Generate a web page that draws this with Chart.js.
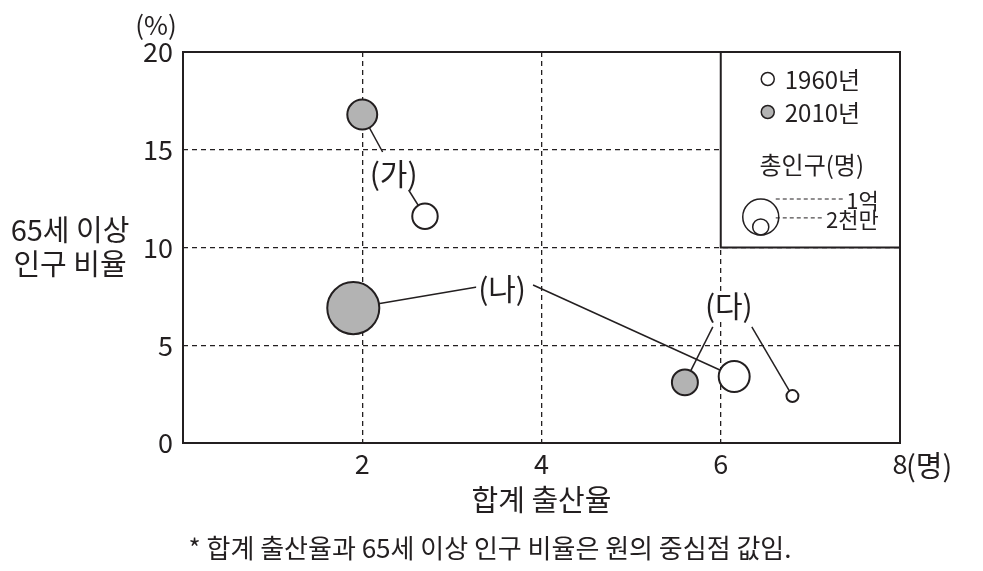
<!DOCTYPE html>
<html>
<head>
<meta charset="utf-8">
<style>
  html, body { margin: 0; padding: 0; background: #fff; }
</style>
<script src="https://cdn.jsdelivr.net/npm/chart.js@4.4.1/dist/chart.umd.min.js"></script>
</head>
<body>
<canvas id="chart" width="983" height="571"></canvas>
<script>
// data
const countries = ["(가)", "(나)", "(다)"];
const fertility1960 = [2.7, 6.15, 6.8];
const elderly1960 = [11.6, 3.4, 2.4];
const pop1960 = [50, 74, 11]; // 백만 명, estimated from circle size
const fertility2010 = [2.0, 1.9, 5.6];
const elderly2010 = [16.8, 6.9, 3.1];
const pop2010 = [69, 209, 52];
const legendPops = [100, 20]; // 1억, 2천만
const legendPopLabels = ["1억", "2천만"];
const xTickValues = [0, 2, 4, 6, 8];
const yTickValues = [0, 5, 10, 15, 20];

const INK = "#231f20";
const GRAY = "#b3b3b3";
const FONT = '"Noto Sans CJK KR", "Noto Sans", sans-serif';

// label anchors (data coords) and leader line start offsets in px [to 1960, to 2010]
const labelAt = [{ x: 2.35, y: 13.76 }, { x: 3.56, y: 7.88 }, { x: 6.09, y: 7.01 }];
const leaderFrom = [
  [[15, 16], [-11, -22]],
  [[31, -4], [-25, -2]],
  [[23, 21], [-16, 21]],
];

function radiusOf(pop) {
  return 1.8 * Math.sqrt(pop);
}

function toPoints(xs, ys, pops) {
  return xs.map((x, i) => ({ x: x, y: ys[i], r: radiusOf(pops[i]) }));
}

function font(size) {
  return size + "px " + FONT;
}

const annotate = {
  id: "annotate",
  beforeDatasetsDraw(chart) {
    const { ctx, chartArea: a, scales: { x, y } } = chart;
    const lx = x.getPixelForValue(6), ly = y.getPixelForValue(10);
    ctx.save();
    // white legend cell hides the grid
    ctx.fillStyle = "#fff";
    ctx.fillRect(lx, a.top, a.right - lx, ly - a.top);
    // leader lines from the labels to the circles
    ctx.strokeStyle = INK;
    ctx.lineWidth = 1.5;
    countries.forEach((c, i) => {
      const cx = x.getPixelForValue(labelAt[i].x);
      const cy = y.getPixelForValue(labelAt[i].y);
      [0, 1].forEach((k) => {
        const pt = chart.getDatasetMeta(k).data[i];
        const [dx, dy] = leaderFrom[i][k];
        ctx.beginPath();
        ctx.moveTo(cx + dx, cy + dy);
        ctx.lineTo(pt.x, pt.y);
        ctx.stroke();
      });
    });
    ctx.restore();
  },
  afterDatasetsDraw(chart) {
    const { ctx, chartArea: a, scales: { x, y } } = chart;
    const lx = x.getPixelForValue(6), ly = y.getPixelForValue(10);
    ctx.save();
    ctx.strokeStyle = INK;
    ctx.fillStyle = INK;
    ctx.lineWidth = 2;
    ctx.strokeRect(a.left, a.top, a.right - a.left, a.bottom - a.top);
    ctx.beginPath();
    ctx.moveTo(lx, a.top);
    ctx.lineTo(lx, ly);
    ctx.lineTo(a.right, ly);
    ctx.stroke();

    // country labels
    ctx.font = font(30);
    ctx.textAlign = "center";
    ctx.textBaseline = "middle";
    countries.forEach((c, i) => {
      const cx = x.getPixelForValue(labelAt[i].x);
      const cy = y.getPixelForValue(labelAt[i].y);
      const w = ctx.measureText(c).width;
      ctx.fillStyle = "#fff";
      ctx.fillRect(cx - w / 2 - 2, cy - 15, w + 4, 30);
      ctx.fillStyle = INK;
      ctx.fillText(c, cx, cy);
    });

    // legend
    const top = a.top;
    ctx.lineWidth = 1.5;
    ctx.textAlign = "left";
    ctx.font = font(24);
    [["1960년", "#fff", 27], ["2010년", GRAY, 60]].forEach(([t, fill, dy]) => {
      ctx.beginPath();
      ctx.arc(lx + 47, top + dy, 6.5, 0, Math.PI * 2);
      ctx.fillStyle = fill;
      ctx.fill();
      ctx.stroke();
      ctx.fillStyle = INK;
      ctx.fillText(t, lx + 64, top + dy + 1);
    });
    ctx.textAlign = "center";
    ctx.fillText("총인구(명)", lx + 91, top + 113);

    const base = top + 183;
    ctx.font = font(22);
    ctx.textAlign = "right";
    legendPops.forEach((p, k) => {
      const r = radiusOf(p);
      ctx.lineWidth = 1.5;
      ctx.setLineDash([]);
      ctx.beginPath();
      ctx.arc(lx + 40, base - r, r, 0, Math.PI * 2);
      ctx.stroke();
      const ty = k === 0 ? base - 2 * r : base - 2 * r - 1;
      const tw = ctx.measureText(legendPopLabels[k]).width;
      ctx.lineWidth = 1;
      ctx.setLineDash([4, 3]);
      ctx.beginPath();
      ctx.moveTo(lx + 55, ty);
      ctx.lineTo(lx + 157 - tw - 2, ty);
      ctx.stroke();
      ctx.fillText(legendPopLabels[k], lx + 158, ty + 2);
    });
    ctx.setLineDash([]);

    // titles and notes
    ctx.fillStyle = INK;
    ctx.font = font(29);
    ctx.textAlign = "center";
    ctx.fillText("합계 출산율", (a.left + a.right) / 2, 500);
    ctx.fillText("65세 이상", 70, 230);
    ctx.fillText("인구 비율", 70, 264);
    ctx.textAlign = "left";
    ctx.fillText("(명)", a.right + 6, 466);
    ctx.font = font(26);
    ctx.textAlign = "center";
    ctx.fillText("(%)", 156, 25);
    ctx.fillText("* 합계 출산율과 65세 이상 인구 비율은 원의 중심점 값임.", 490, 548);
    ctx.restore();
  },
};

Chart.defaults.font.family = FONT;
Chart.defaults.color = INK;

new Chart(document.getElementById("chart"), {
  type: "bubble",
  data: {
    datasets: [
      {
        label: "1960년",
        data: toPoints(fertility1960, elderly1960, pop1960),
        backgroundColor: "#fff",
        borderColor: INK,
        borderWidth: 2,
      },
      {
        label: "2010년",
        data: toPoints(fertility2010, elderly2010, pop2010),
        backgroundColor: GRAY,
        borderColor: INK,
        borderWidth: 2,
      },
    ],
  },
  options: {
    responsive: false,
    devicePixelRatio: 1,
    animation: false,
    events: [],
    layout: { padding: { top: 52, right: 83, left: 0, bottom: 0 } },
    plugins: { legend: { display: false }, tooltip: { enabled: false } },
    scales: {
      x: {
        type: "linear",
        min: 0,
        max: 8,
        afterBuildTicks: (s) => { s.ticks = xTickValues.map((v) => ({ value: v })); },
        afterFit: (s) => { s.height = 128; },
        ticks: {
          font: { size: 27 },
          color: INK,
          padding: 5,
          callback: (v) => (v === 0 ? "" : v),
        },
        grid: {
          drawTicks: false,
          lineWidth: 1.3,
          color: (c) => (c.tick && (c.tick.value === 0 || c.tick.value === 8) ? "transparent" : INK),
        },
        border: { display: false, dash: [5, 4] },
      },
      y: {
        type: "linear",
        min: 0,
        max: 20,
        afterBuildTicks: (s) => { s.ticks = yTickValues.map((v) => ({ value: v })); },
        afterFit: (s) => { s.width = 183; },
        ticks: { font: { size: 27 }, color: INK, padding: 10 },
        grid: {
          drawTicks: false,
          lineWidth: 1.3,
          color: (c) => (c.tick && (c.tick.value === 0 || c.tick.value === 20) ? "transparent" : INK),
        },
        border: { display: false, dash: [5, 4] },
      },
    },
  },
  plugins: [annotate],
});
</script>
</body>
</html>
